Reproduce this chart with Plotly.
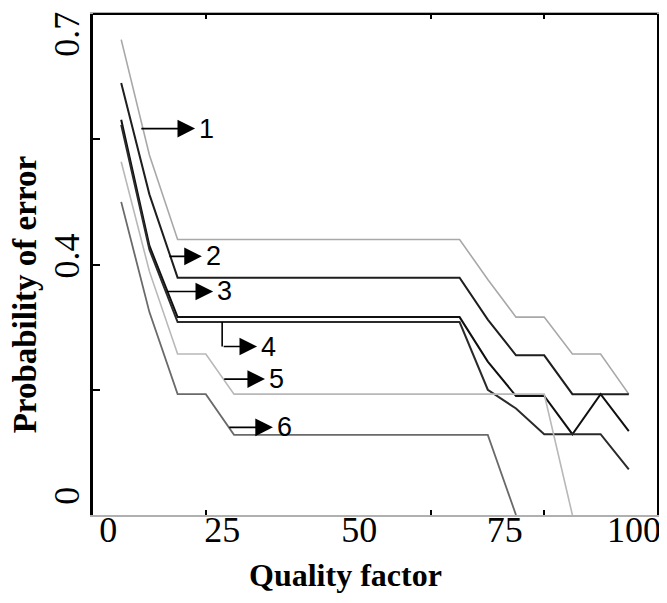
import plotly.graph_objects as go

# ---- data ----
quality = [5, 10, 15, 20, 25, 30, 35, 40, 45, 50, 55, 60, 65, 70, 75, 80, 85, 90, 95]

curve1 = [0.759, 0.575, 0.440, 0.440, 0.440, 0.440, 0.440, 0.440, 0.440, 0.440, 0.440, 0.440, 0.440,
          0.376, 0.316, 0.316, 0.257, 0.257, 0.193]
curve2 = [0.690, 0.512, 0.379, 0.379, 0.379, 0.379, 0.379, 0.379, 0.379, 0.379, 0.379, 0.379, 0.379,
          0.312, 0.255, 0.255, 0.193, 0.193, 0.193]
curve3 = [0.631, 0.430, 0.316, 0.316, 0.316, 0.316, 0.316, 0.316, 0.316, 0.316, 0.316, 0.316, 0.316,
          0.245, 0.190, 0.190, 0.129, 0.193, 0.134]
curve4 = [0.623, 0.424, 0.308, 0.308, 0.308, 0.308, 0.308, 0.308, 0.308, 0.308, 0.308, 0.308, 0.308,
          0.200, 0.170, 0.129, 0.129, 0.129, 0.073]
curve5 = [0.564, 0.389, 0.257, 0.257, 0.193, 0.193, 0.193, 0.193, 0.193, 0.193, 0.193, 0.193, 0.193,
          0.193, 0.193, 0.193, 0.000, None, None]
curve6 = [0.500, 0.324, 0.193, 0.193, 0.128, 0.128, 0.128, 0.128, 0.128, 0.128, 0.128, 0.128, 0.128,
          0.128, 0.000, None, None, None, None]

curve_labels = ["1", "2", "3", "4", "5", "6"]
x_tick_text = ["0", "25", "50", "75", "100"]
y_tick_text = ["0", "0.4", "0.7"]
x_title = "Quality factor"
y_title = "Probability of error"

series = [curve1, curve2, curve3, curve4, curve5, curve6]
colors = ["#a8a8a8", "#1e1e1e", "#101010", "#2a2a2a", "#b8b8b8", "#6a6a6a"]
widths = [1.6, 2, 2, 2, 1.6, 1.8]

fig = go.Figure()
for name, ys, c, w in zip(curve_labels, series, colors, widths):
    fig.add_trace(go.Scatter(x=quality, y=ys, mode="lines", name=name,
                             line=dict(color=c, width=w), connectgaps=False,
                             showlegend=False))

# arrows + labels (start point on curve -> arrow tip, label after tip)
arrow_specs = [
    # (x_start, x_tip, y)
    (8.3, 18.1, 0.617),
    (13.3, 19.3, 0.413),
    (12.8, 21.3, 0.357),
    (22.9, 29.1, 0.269),
    (23.0, 30.5, 0.217),
    (23.9, 31.9, 0.140),
]
annotations = []
for lab, (xs, xt, yy) in zip(curve_labels, arrow_specs):
    annotations.append(dict(x=xt, y=yy, ax=xs, ay=yy, xref="x", yref="y", axref="x", ayref="y",
                            text="", showarrow=True, arrowhead=2, arrowsize=2.2, arrowwidth=1.6,
                            arrowcolor="black", standoff=0, startstandoff=0))
    annotations.append(dict(x=xt + 0.4, y=yy, xref="x", yref="y", text=lab, showarrow=False,
                            xanchor="left", yanchor="middle",
                            font=dict(family="Liberation Sans", size=27, color="black")))

# axis titles
annotations.append(dict(x=0.447, y=-0.12, xref="paper", yref="paper", text="<b>%s</b>" % x_title,
                        showarrow=False, xanchor="center", yanchor="middle",
                        font=dict(family="Liberation Serif", size=32, color="black")))
annotations.append(dict(x=-0.121, y=0.44, xref="paper", yref="paper", text="<b>%s</b>" % y_title,
                        showarrow=False, xanchor="center", yanchor="middle", textangle=-90,
                        font=dict(family="Liberation Serif", size=33, color="black")))

shapes = [
    # bracket stem for label 4
    dict(type="line", xref="x", yref="y", x0=22.9, x1=22.9, y0=0.308, y1=0.269,
         line=dict(color="black", width=1.6)),
    # black top frame line
    dict(type="line", xref="paper", yref="paper", x0=0, x1=1, y0=1, y1=1,
         line=dict(color="black", width=2)),
]

# page body has an 8px default margin, so the figure is 8px smaller than the window
fig.update_layout(
    width=659, height=595,
    margin=dict(l=85, r=10, t=6, b=88, autoexpand=False),
    paper_bgcolor="white", plot_bgcolor="white",
    annotations=annotations, shapes=shapes,
    font=dict(family="Liberation Serif", color="black"),
)

fig.update_xaxes(
    range=[0, 100], showgrid=False, zeroline=False, automargin=False,
    showline=True, linecolor="#b0b0b0", linewidth=1.5,
    tickmode="array", tickvals=[2.7, 22.9, 47.2, 73.0, 95.9], ticktext=x_tick_text,
    ticks="", ticklabelstandoff=-18,
    tickfont=dict(family="Liberation Serif", size=36, color="black"),
    minor=dict(tickmode="array", tickvals=[20, 60, 80], ticks="inside", ticklen=5,
               tickwidth=2, tickcolor="black", showgrid=False),
    mirror="ticks",
)
fig.update_yaxes(
    range=[0, 0.8], showgrid=False, zeroline=False, automargin=False,
    showline=True, linecolor="black", linewidth=2.5, mirror=True,
    tickmode="array", tickvals=[0.022, 0.405, 0.759], ticktext=y_tick_text,
    tickangle=-90, ticks="", ticklabelstandoff=-3,
    tickfont=dict(family="Liberation Serif", size=36, color="black"),
    minor=dict(tickmode="array", tickvals=[0.2, 0.4, 0.6], ticks="inside", ticklen=7,
               tickwidth=2, tickcolor="black", showgrid=False),
)

fig.write_html("out.html")
